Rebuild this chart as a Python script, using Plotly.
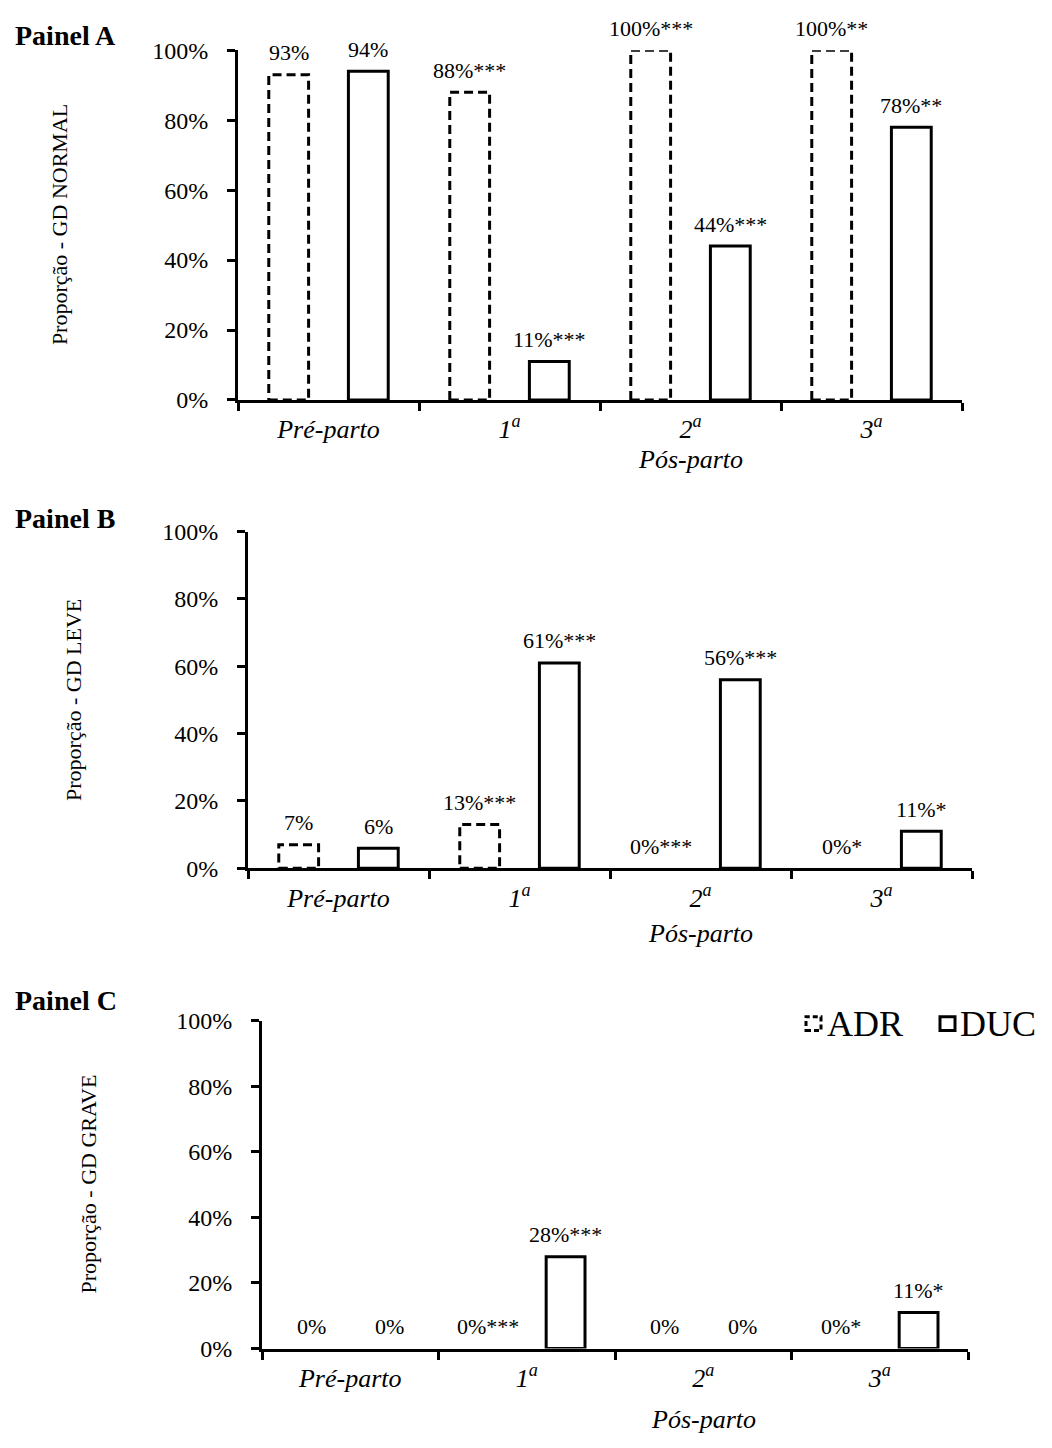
import plotly.graph_objects as go

W, H = 1052, 1448
FONT = "Liberation Serif"

# ---------------- data ----------------
categories = ["Pré-parto", "1<sup>a</sup>", "2<sup>a</sup>", "3<sup>a</sup>"]
series_names = ["ADR", "DUC"]

normal_adr = [0.93, 0.88, 1.00, 1.00]
normal_duc = [0.94, 0.11, 0.44, 0.78]
normal_adr_sig = ["", "***", "***", "**"]
normal_duc_sig = ["", "***", "***", "**"]

leve_adr = [0.07, 0.13, 0.00, 0.00]
leve_duc = [0.06, 0.61, 0.56, 0.11]
leve_adr_sig = ["", "***", "***", "*"]
leve_duc_sig = ["", "***", "***", "*"]

grave_adr = [0.00, 0.00, 0.00, 0.00]
grave_duc = [0.00, 0.28, 0.00, 0.11]
grave_adr_sig = ["", "***", "", "*"]
grave_duc_sig = ["", "***", "", "*"]

panel_titles = ["Painel A", "Painel B", "Painel C"]
y_titles = ["Proporção - GD NORMAL", "Proporção - GD LEVE", "Proporção - GD GRAVE"]
group_title = "Pós-parto"
y_tickvals = [0, 0.2, 0.4, 0.6, 0.8, 1.0]

panels_data = [
    (normal_adr, normal_duc, normal_adr_sig, normal_duc_sig),
    (leve_adr, leve_duc, leve_adr_sig, leve_duc_sig),
    (grave_adr, grave_duc, grave_adr_sig, grave_duc_sig),
]

# ---------------- layout geometry (pixels) ----------------
# (x_left, x_right, y_zero, y_top, ytitle_x, panel_title_y, group_title_y)
geom = [
    (238, 962, 394, 38, 59, 23, 455),
    (248, 972, 871, 528, 74, 515, 937),
    (262, 968, 1360, 1026, 89, 1006, 1432),
]

def px(x):
    return x / W

def py(y):
    return 1 - y / H

BAR_W = 0.22
OFF_ADR = -0.33
OFF_DUC = 0.11
DASH = "9px,5px"
LW = 3

fig = go.Figure()
annotations = []
shapes = []

for k, ((adr, duc, adr_sig, duc_sig), g) in enumerate(zip(panels_data, geom)):
    xl, xr, y0, y1, ytx, pty, gty = g
    xa = "x" if k == 0 else f"x{k+1}"
    ya = "y" if k == 0 else f"y{k+1}"
    xname = "xaxis" if k == 0 else f"xaxis{k+1}"
    yname = "yaxis" if k == 0 else f"yaxis{k+1}"

    # ADR bars (outline drawn dashed via shapes)
    fig.add_trace(go.Bar(
        x=categories, y=adr, name=series_names[0], xaxis=xa, yaxis=ya,
        width=BAR_W, offset=OFF_ADR,
        marker=dict(color="rgba(255,255,255,0)", line=dict(width=0)),
        showlegend=False, hoverinfo="skip",
    ))
    # DUC bars (solid outline)
    fig.add_trace(go.Bar(
        x=categories, y=duc, name=series_names[1], xaxis=xa, yaxis=ya,
        width=BAR_W, offset=OFF_DUC,
        marker=dict(color="white",
                    line=dict(width=[LW if v > 0 else 0 for v in duc], color="black")),
        showlegend=False, hoverinfo="skip",
    ))

    for i, v in enumerate(adr):
        if v > 0:
            shapes.append(dict(
                type="rect", xref=xa, yref=ya,
                x0=i + OFF_ADR, x1=i + OFF_ADR + BAR_W, y0=0, y1=v,
                line=dict(color="black", width=LW, dash=DASH),
                fillcolor="rgba(0,0,0,0)", layer="above",
            ))
        annotations.append(dict(
            xref=xa, yref=ya, x=i + OFF_ADR + BAR_W / 2, y=v, yshift=22,
            text=f"{round(v*100)}%{adr_sig[i]}", showarrow=False,
            font=dict(family=FONT, size=22, color="black"),
            xanchor="center", yanchor="middle",
        ))
    for i, v in enumerate(duc):
        annotations.append(dict(
            xref=xa, yref=ya, x=i + OFF_DUC + BAR_W / 2, y=v, yshift=22,
            text=f"{round(v*100)}%{duc_sig[i]}", showarrow=False,
            font=dict(family=FONT, size=22, color="black"),
            xanchor="center", yanchor="middle",
        ))

    fig.layout[xname] = dict(
        domain=[px(xl), px(xr)], anchor=ya, type="category",
        categoryorder="array", categoryarray=categories,
        range=[-0.5, len(categories) - 0.5],
        tickson="boundaries", ticks="outside", ticklen=8, tickwidth=LW,
        tickcolor="black", showline=True, linewidth=LW, linecolor="black",
        showgrid=False, zeroline=False, ticklabelstandoff=4,
        tickfont=dict(family=FONT, size=26, color="black", style="italic"),
    )
    fig.layout[yname] = dict(
        domain=[py(y0), py(y1)], anchor=xa, range=[0, 1],
        tickvals=y_tickvals, tickformat=".0%", ticks="outside", ticklen=8,
        tickwidth=LW, tickcolor="black", showline=True, linewidth=LW,
        linecolor="black", showgrid=False, zeroline=False,
        ticklabelstandoff=14,
        tickfont=dict(family=FONT, size=24, color="black"),
    )

    # panel title
    annotations.append(dict(
        xref="paper", yref="paper", x=px(13), y=py(pty), text=f"<b>{panel_titles[k]}</b>",
        showarrow=False, xanchor="left", yanchor="middle",
        font=dict(family=FONT, size=28, color="black"),
    ))
    # y title
    annotations.append(dict(
        xref="paper", yref="paper", x=px(ytx), y=py((y0 + y1) / 2), text=y_titles[k],
        showarrow=False, xanchor="center", yanchor="middle", textangle=-90,
        font=dict(family=FONT, size=22, color="black"),
    ))
    # group title
    annotations.append(dict(
        xref=xa, yref="paper", x=2, y=py(gty), text=group_title,
        showarrow=False, xanchor="center", yanchor="middle",
        font=dict(family=FONT, size=26, color="black", style="italic"),
    ))

# legend (manual, top right of panel C)
leg_y = 1029
shapes.append(dict(type="rect", xref="paper", yref="paper",
                   x0=px(806), x1=px(821), y0=py(leg_y + 7), y1=py(leg_y - 7),
                   line=dict(color="black", width=LW, dash="5px,3px")))
annotations.append(dict(xref="paper", yref="paper", x=px(825), y=py(leg_y), text=series_names[0],
                        showarrow=False, xanchor="left", yanchor="middle",
                        font=dict(family=FONT, size=36, color="black")))
shapes.append(dict(type="rect", xref="paper", yref="paper",
                   x0=px(940), x1=px(955), y0=py(leg_y + 7), y1=py(leg_y - 7),
                   line=dict(color="black", width=LW)))
annotations.append(dict(xref="paper", yref="paper", x=px(958), y=py(leg_y), text=series_names[1],
                        showarrow=False, xanchor="left", yanchor="middle",
                        font=dict(family=FONT, size=36, color="black")))

fig.update_layout(
    width=W, height=H, autosize=False,
    margin=dict(l=0, r=0, t=0, b=0, pad=0),
    paper_bgcolor="white", plot_bgcolor="white",
    barmode="overlay", showlegend=False,
    annotations=annotations, shapes=shapes,
    font=dict(family=FONT, color="black"),
)

fig.write_html("out.html", config={"displayModeBar": False},
               post_script="document.body.style.margin='0';")
